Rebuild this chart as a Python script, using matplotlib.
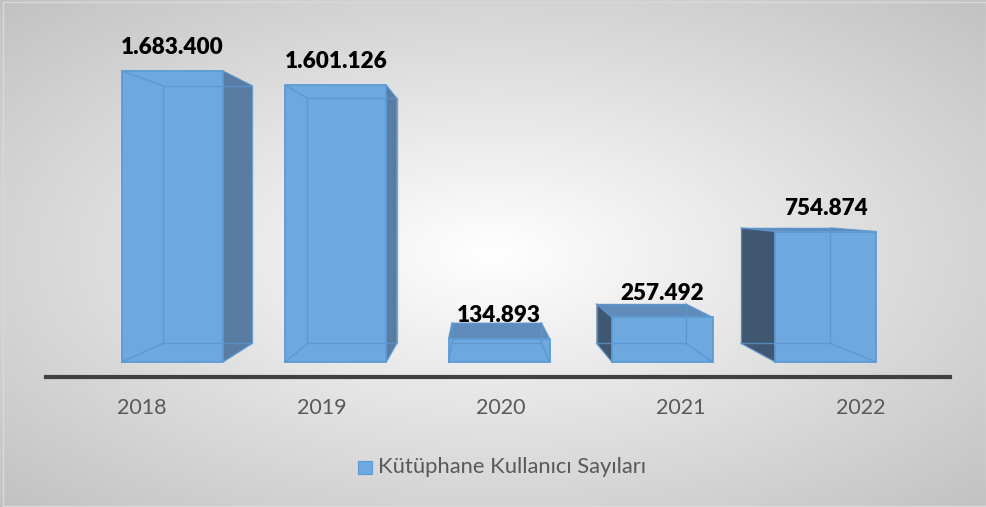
import numpy as np
import matplotlib.pyplot as plt
from matplotlib.patches import Polygon, Rectangle

plt.rcParams['font.family'] = ['Lato', 'DejaVu Sans']

years = ['2018', '2019', '2020', '2021', '2022']
users = [1683400, 1601126, 134893, 257492, 754874]
labels = ['1.683.400', '1.601.126', '134.893', '257.492', '754.874']
series_name = 'Kütüphane Kullanıcı Sayıları'

W, H = 987, 507
fig = plt.figure(figsize=(W / 100, H / 100), dpi=100)
ax = fig.add_axes([0, 0, 1, 1])

# data <-> pixel mapping (category spacing 163.3 px, 5785 users per px)
xpx, ypx = 163.3, 5785.0
x0px, y0px = 172.5, H - 362
ax.set_xlim(-x0px / xpx, (W - x0px) / xpx)
ax.set_ylim(-y0px * ypx, (H - y0px) * ypx)
ax.axis('off')

# radial background
gx, gy = np.meshgrid(np.linspace(0, 1, 400), np.linspace(0, 1, 200))
r = np.sqrt(((gx - 0.5) / 0.5) ** 2 + ((gy - 0.5) / 0.5) ** 2) / np.sqrt(2)
bg = 1 - 0.24 * r
ax.imshow(np.dstack([bg, bg, bg]), extent=(0, 1, 0, 1), transform=ax.transAxes,
          aspect='auto', zorder=0, interpolation='bilinear')
ax.add_patch(Rectangle((3 / W, 1 / H), (W - 4) / W, (H - 3) / H, transform=ax.transAxes,
                       fill=False, ec='#d9d9d9', lw=1, zorder=1))

# perspective: vanishing point and depth factor
vpx = (478 - x0px) / xpx
vpy = (H - 200 - y0px) * ypx
depth = 0.115
width = 101 / xpx

front_c = '#6fa8de'
edge_c = '#5b9bd5'
top_c = '#5f8cbb'
right_c = '#587ca2'
left_c = '#3f5771'


def back(p):
    return (p[0] + (vpx - p[0]) * depth, p[1] + (vpy - p[1]) * depth)


for i, v in enumerate(users):
    xl, xr = i - width / 2, i + width / 2
    fbl, fbr, ftr, ftl = (xl, 0), (xr, 0), (xr, v), (xl, v)
    bbl, bbr, btr, btl = back(fbl), back(fbr), back(ftr), back(ftl)
    z = 3
    # top face
    ax.add_patch(Polygon([ftl, ftr, btr, btl], closed=True, fc=top_c, ec='none', zorder=z))
    # side faces
    if xr < vpx:
        ax.add_patch(Polygon([fbr, ftr, btr, bbr], closed=True, fc=right_c, ec='none', zorder=z))
    if xl > vpx:
        ax.add_patch(Polygon([fbl, ftl, btl, bbl], closed=True, fc=left_c, ec='none', zorder=z))
    # front face
    ax.add_patch(Polygon([fbl, fbr, ftr, ftl], closed=True, fc=front_c, ec='none', zorder=z + 1))
    # edges of the box
    kw = dict(color=edge_c, lw=1.3, zorder=z + 2, solid_capstyle='round')
    ax.plot([bbl[0], bbr[0], btr[0], btl[0], bbl[0]], [bbl[1], bbr[1], btr[1], btl[1], bbl[1]],
            color='#5a95d0', lw=1.0, alpha=0.8, zorder=z + 2)
    for a, b in [(fbl, bbl), (fbr, bbr), (ftr, btr), (ftl, btl)]:
        ax.plot([a[0], b[0]], [a[1], b[1]], color='#5a95d0', lw=1.0, alpha=0.8, zorder=z + 2)
    ax.plot([fbl[0], fbr[0], ftr[0], ftl[0], fbl[0]], [fbl[1], fbr[1], ftr[1], ftl[1], fbl[1]], **kw)

    ax.text(i, v + 17 * ypx, labels[i], ha='center', va='baseline', fontsize=16.2,
            fontweight='heavy', color='black', zorder=6)
    lx = vpx + (i - vpx) * 1.1
    ax.text(lx, -(408 - 362) * ypx, years[i], ha='center', va='center', fontsize=15.5,
            color='#595959', zorder=6)

# floor line
ax.plot([46 / W, 950 / W], [1 - 377 / H, 1 - 377 / H], transform=ax.transAxes,
        color='#404040', lw=3, zorder=2)

# legend
ax.add_patch(Rectangle((358 / W, 1 - 474 / H), 14 / W, 13 / H, transform=ax.transAxes,
                       fc=front_c, ec=edge_c, lw=0.8, zorder=6))
ax.text(378 / W, 1 - 467 / H, series_name, transform=ax.transAxes, ha='left', va='center',
        fontsize=15.8, color='#595959', zorder=6)

fig.savefig('out.png', dpi=100)
